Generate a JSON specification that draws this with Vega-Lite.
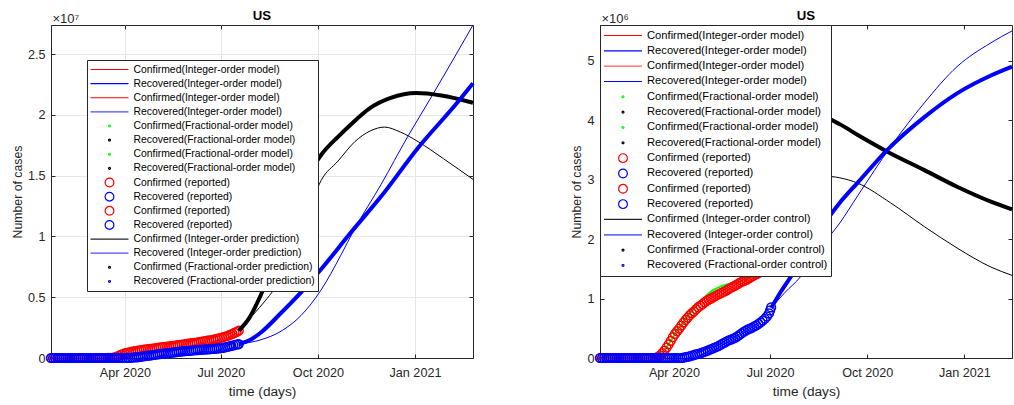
{
  "$schema": "https://vega.github.io/schema/vega-lite/v6.json",
  "background": "white",
  "padding": {"left": 10, "top": 8, "right": 0, "bottom": 0},
  "spacing": 88,
  "config": {
    "font": "Liberation Sans",
    "view": {"stroke": "#262626", "strokeWidth": 1},
    "axis": {"labelFont": "Liberation Sans", "titleFont": "Liberation Sans", "labelFontSize": 12.6, "labelColor": "#262626", "titleColor": "#262626", "titleFontWeight": "normal", "domainColor": "#262626", "tickColor": "#262626", "tickSize": -4, "gridColor": "#e6e6e6", "grid": true},
    "axisX": {"labelPadding": 12.5, "titlePadding": 5, "titleFontSize": 13.7},
    "axisY": {"labelPadding": 10, "titlePadding": 3, "titleFontSize": 12.3}
  },
  "datasets": {
    "L": [
      {"series":"09","date":"2020-01-22","cases":0},{"series":"09","date":"2020-01-24","cases":0},{"series":"09","date":"2020-01-26","cases":0},{"series":"09","date":"2020-01-28","cases":0},{"series":"09","date":"2020-01-30","cases":0},{"series":"09","date":"2020-02-01","cases":0},{"series":"09","date":"2020-02-03","cases":0},{"series":"09","date":"2020-02-05","cases":0},{"series":"09","date":"2020-02-07","cases":0},{"series":"09","date":"2020-02-09","cases":0},{"series":"09","date":"2020-02-11","cases":0},{"series":"09","date":"2020-02-13","cases":0},{"series":"09","date":"2020-02-15","cases":0},{"series":"09","date":"2020-02-17","cases":0},{"series":"09","date":"2020-02-19","cases":0},{"series":"09","date":"2020-02-21","cases":0},{"series":"09","date":"2020-02-23","cases":0},{"series":"09","date":"2020-02-25","cases":0},{"series":"09","date":"2020-02-27","cases":0},{"series":"09","date":"2020-02-29","cases":0},{"series":"09","date":"2020-03-02","cases":0},{"series":"09","date":"2020-03-04","cases":0},{"series":"09","date":"2020-03-06","cases":0},{"series":"09","date":"2020-03-08","cases":0},{"series":"09","date":"2020-03-10","cases":0},{"series":"09","date":"2020-03-12","cases":0},{"series":"09","date":"2020-03-14","cases":0},{"series":"09","date":"2020-03-16","cases":1000},
      {"series":"09","date":"2020-03-18","cases":5000},{"series":"09","date":"2020-03-20","cases":20000},{"series":"09","date":"2020-03-22","cases":50000},{"series":"09","date":"2020-03-24","cases":100000},{"series":"09","date":"2020-03-26","cases":170000},{"series":"09","date":"2020-03-28","cases":250000},{"series":"09","date":"2020-03-30","cases":320000},{"series":"09","date":"2020-04-01","cases":380000},{"series":"09","date":"2020-04-03","cases":430000},{"series":"09","date":"2020-04-05","cases":470000},{"series":"09","date":"2020-04-07","cases":510000},{"series":"09","date":"2020-04-09","cases":540000},{"series":"09","date":"2020-04-11","cases":570000},{"series":"09","date":"2020-04-13","cases":600000},{"series":"09","date":"2020-04-15","cases":630000},{"series":"09","date":"2020-04-17","cases":655000},{"series":"09","date":"2020-04-19","cases":680000},{"series":"09","date":"2020-04-21","cases":705000},{"series":"09","date":"2020-04-23","cases":730000},{"series":"09","date":"2020-04-25","cases":755000},{"series":"09","date":"2020-04-27","cases":780000},{"series":"09","date":"2020-04-29","cases":800000},{"series":"09","date":"2020-05-01","cases":820000},{"series":"09","date":"2020-05-03","cases":845000},{"series":"09","date":"2020-05-05","cases":870000},{"series":"09","date":"2020-05-07","cases":890000},{"series":"09","date":"2020-05-09","cases":910000},{"series":"09","date":"2020-05-11","cases":935000},{"series":"09","date":"2020-05-13","cases":960000},{"series":"09","date":"2020-05-15","cases":980000},{"series":"09","date":"2020-05-17","cases":1000000},{"series":"09","date":"2020-05-19","cases":1025000},{"series":"09","date":"2020-05-21","cases":1050000},{"series":"09","date":"2020-05-23","cases":1075000},{"series":"09","date":"2020-05-25","cases":1100000},{"series":"09","date":"2020-05-27","cases":1125000},{"series":"09","date":"2020-05-29","cases":1150000},{"series":"09","date":"2020-05-31","cases":1175000},{"series":"09","date":"2020-06-02","cases":1200000},{"series":"09","date":"2020-06-04","cases":1225000},{"series":"09","date":"2020-06-06","cases":1250000},{"series":"09","date":"2020-06-08","cases":1275000},{"series":"09","date":"2020-06-10","cases":1300000},{"series":"09","date":"2020-06-12","cases":1330000},{"series":"09","date":"2020-06-14","cases":1360000},{"series":"09","date":"2020-06-16","cases":1390000},{"series":"09","date":"2020-06-18","cases":1420000},{"series":"09","date":"2020-06-20","cases":1450000},{"series":"09","date":"2020-06-22","cases":1480000},{"series":"09","date":"2020-06-24","cases":1515000},{"series":"09","date":"2020-06-26","cases":1550000},{"series":"09","date":"2020-06-28","cases":1590000},{"series":"09","date":"2020-06-30","cases":1630000},{"series":"09","date":"2020-07-02","cases":1680000},{"series":"09","date":"2020-07-04","cases":1730000},{"series":"09","date":"2020-07-06","cases":1790000},{"series":"09","date":"2020-07-08","cases":1850000},{"series":"09","date":"2020-07-10","cases":1920000},{"series":"09","date":"2020-07-12","cases":1990000},{"series":"09","date":"2020-07-14","cases":2070000},{"series":"09","date":"2020-07-16","cases":2150000},{"series":"09","date":"2020-07-18","cases":2250000},
      {"series":"10","date":"2020-01-22","cases":0},{"series":"10","date":"2020-01-24","cases":0},{"series":"10","date":"2020-01-26","cases":0},{"series":"10","date":"2020-01-28","cases":0},{"series":"10","date":"2020-01-30","cases":0},{"series":"10","date":"2020-02-01","cases":0},{"series":"10","date":"2020-02-03","cases":0},{"series":"10","date":"2020-02-05","cases":0},{"series":"10","date":"2020-02-07","cases":0},{"series":"10","date":"2020-02-09","cases":0},{"series":"10","date":"2020-02-11","cases":0},{"series":"10","date":"2020-02-13","cases":0},{"series":"10","date":"2020-02-15","cases":0},{"series":"10","date":"2020-02-17","cases":0},{"series":"10","date":"2020-02-19","cases":0},{"series":"10","date":"2020-02-21","cases":0},{"series":"10","date":"2020-02-23","cases":0},{"series":"10","date":"2020-02-25","cases":0},{"series":"10","date":"2020-02-27","cases":0},{"series":"10","date":"2020-02-29","cases":0},{"series":"10","date":"2020-03-02","cases":0},{"series":"10","date":"2020-03-04","cases":0},{"series":"10","date":"2020-03-06","cases":0},{"series":"10","date":"2020-03-08","cases":0},{"series":"10","date":"2020-03-10","cases":0},{"series":"10","date":"2020-03-12","cases":0},{"series":"10","date":"2020-03-14","cases":0},{"series":"10","date":"2020-03-16","cases":0},{"series":"10","date":"2020-03-18","cases":0},{"series":"10","date":"2020-03-20","cases":0},{"series":"10","date":"2020-03-22","cases":0},{"series":"10","date":"2020-03-24","cases":0},{"series":"10","date":"2020-03-26","cases":0},{"series":"10","date":"2020-03-28","cases":0},{"series":"10","date":"2020-03-30","cases":0},
      {"series":"10","date":"2020-04-02","cases":5000},{"series":"10","date":"2020-04-04","cases":12000},{"series":"10","date":"2020-04-06","cases":20000},{"series":"10","date":"2020-04-08","cases":30000},{"series":"10","date":"2020-04-10","cases":43000},{"series":"10","date":"2020-04-12","cases":58000},{"series":"10","date":"2020-04-14","cases":78000},{"series":"10","date":"2020-04-16","cases":100000},{"series":"10","date":"2020-04-18","cases":125000},{"series":"10","date":"2020-04-20","cases":150000},{"series":"10","date":"2020-04-22","cases":175000},{"series":"10","date":"2020-04-24","cases":200000},{"series":"10","date":"2020-04-26","cases":225000},{"series":"10","date":"2020-04-28","cases":250000},{"series":"10","date":"2020-04-30","cases":275000},{"series":"10","date":"2020-05-02","cases":300000},{"series":"10","date":"2020-05-04","cases":325000},{"series":"10","date":"2020-05-06","cases":350000},{"series":"10","date":"2020-05-08","cases":370000},{"series":"10","date":"2020-05-10","cases":390000},{"series":"10","date":"2020-05-12","cases":410000},{"series":"10","date":"2020-05-14","cases":430000},{"series":"10","date":"2020-05-16","cases":450000},{"series":"10","date":"2020-05-18","cases":470000},{"series":"10","date":"2020-05-20","cases":490000},{"series":"10","date":"2020-05-22","cases":510000},{"series":"10","date":"2020-05-24","cases":530000},{"series":"10","date":"2020-05-26","cases":550000},{"series":"10","date":"2020-05-28","cases":565000},{"series":"10","date":"2020-05-30","cases":580000},{"series":"10","date":"2020-06-01","cases":595000},{"series":"10","date":"2020-06-03","cases":610000},{"series":"10","date":"2020-06-05","cases":625000},{"series":"10","date":"2020-06-07","cases":640000},{"series":"10","date":"2020-06-09","cases":655000},{"series":"10","date":"2020-06-11","cases":670000},{"series":"10","date":"2020-06-13","cases":685000},{"series":"10","date":"2020-06-15","cases":695000},{"series":"10","date":"2020-06-17","cases":705000},{"series":"10","date":"2020-06-19","cases":715000},{"series":"10","date":"2020-06-21","cases":730000},{"series":"10","date":"2020-06-23","cases":745000},{"series":"10","date":"2020-06-25","cases":760000},{"series":"10","date":"2020-06-27","cases":775000},{"series":"10","date":"2020-06-29","cases":790000},{"series":"10","date":"2020-07-01","cases":810000},{"series":"10","date":"2020-07-03","cases":840000},{"series":"10","date":"2020-07-05","cases":880000},{"series":"10","date":"2020-07-07","cases":920000},{"series":"10","date":"2020-07-09","cases":960000},{"series":"10","date":"2020-07-11","cases":1000000},{"series":"10","date":"2020-07-13","cases":1040000},{"series":"10","date":"2020-07-15","cases":1090000},{"series":"10","date":"2020-07-17","cases":1130000},{"series":"10","date":"2020-07-18","cases":1150000},
      {"series":"13","date":"2020-07-18","cases":2250000},{"series":"13","date":"2020-08-01","cases":3600000},{"series":"13","date":"2020-08-12","cases":4700000},{"series":"13","date":"2020-08-20","cases":5600000},{"series":"13","date":"2020-09-05","cases":8200000},{"series":"13","date":"2020-09-20","cases":11500000},{"series":"13","date":"2020-10-04","cases":14600000},{"series":"13","date":"2020-10-20","cases":16200000},{"series":"13","date":"2020-11-05","cases":17800000},{"series":"13","date":"2020-11-20","cases":18700000},{"series":"13","date":"2020-12-03","cases":19000000},{"series":"13","date":"2020-12-18","cases":18600000},{"series":"13","date":"2021-01-04","cases":17800000},{"series":"13","date":"2021-01-28","cases":16400000},{"series":"13","date":"2021-02-25","cases":14700000},
      {"series":"14","date":"2020-07-18","cases":1150000},{"series":"14","date":"2020-08-08","cases":1500000},{"series":"14","date":"2020-08-27","cases":2200000},{"series":"14","date":"2020-09-15","cases":3500000},{"series":"14","date":"2020-10-04","cases":5600000},{"series":"14","date":"2020-10-23","cases":8500000},{"series":"14","date":"2020-11-04","cases":10500000},{"series":"14","date":"2020-11-30","cases":14300000},{"series":"14","date":"2020-12-25","cases":18200000},{"series":"14","date":"2021-01-16","cases":21400000},{"series":"14","date":"2021-02-25","cases":27400000},
      {"series":"15","date":"2020-07-18","cases":2250000},{"series":"15","date":"2020-07-28","cases":3300000},{"series":"15","date":"2020-08-08","cases":5200000},{"series":"15","date":"2020-08-20","cases":7800000},{"series":"15","date":"2020-09-01","cases":10500000},{"series":"15","date":"2020-09-15","cases":13600000},{"series":"15","date":"2020-09-25","cases":15500000},{"series":"15","date":"2020-10-04","cases":16700000},{"series":"15","date":"2020-10-20","cases":18200000},{"series":"15","date":"2020-11-01","cases":19200000},{"series":"15","date":"2020-11-20","cases":20600000},{"series":"15","date":"2020-12-09","cases":21400000},{"series":"15","date":"2021-01-02","cases":21800000},{"series":"15","date":"2021-01-26","cases":21600000},{"series":"15","date":"2021-02-25","cases":21000000},
      {"series":"16","date":"2020-07-18","cases":1150000},{"series":"16","date":"2020-07-29","cases":1500000},{"series":"16","date":"2020-08-08","cases":2100000},{"series":"16","date":"2020-08-27","cases":3700000},{"series":"16","date":"2020-09-15","cases":5400000},{"series":"16","date":"2020-10-04","cases":7300000},{"series":"16","date":"2020-11-01","cases":10300000},{"series":"16","date":"2020-11-30","cases":13300000},{"series":"16","date":"2021-01-04","cases":17300000},{"series":"16","date":"2021-02-11","cases":21100000},{"series":"16","date":"2021-02-25","cases":22600000}
    ],
    "R": [
      {"series":"05","date":"2020-01-22","cases":0},{"series":"05","date":"2020-02-20","cases":0},{"series":"05","date":"2020-03-14","cases":0},{"series":"05","date":"2020-03-18","cases":30000},{"series":"05","date":"2020-03-26","cases":210000},{"series":"05","date":"2020-04-05","cases":490000},{"series":"05","date":"2020-04-15","cases":720000},{"series":"05","date":"2020-04-25","cases":930000},{"series":"05","date":"2020-05-01","cases":1040000},{"series":"05","date":"2020-05-08","cases":1140000},{"series":"05","date":"2020-05-15","cases":1200000},{"series":"05","date":"2020-05-22","cases":1240000},{"series":"05","date":"2020-06-01","cases":1280000},{"series":"05","date":"2020-06-13","cases":1370000},{"series":"05","date":"2020-06-25","cases":1480000},{"series":"05","date":"2020-07-02","cases":1580000},
      {"series":"09","date":"2020-01-22","cases":0},{"series":"09","date":"2020-01-24","cases":0},{"series":"09","date":"2020-01-26","cases":0},{"series":"09","date":"2020-01-28","cases":0},{"series":"09","date":"2020-01-30","cases":0},{"series":"09","date":"2020-02-01","cases":0},{"series":"09","date":"2020-02-03","cases":0},{"series":"09","date":"2020-02-05","cases":0},{"series":"09","date":"2020-02-07","cases":0},{"series":"09","date":"2020-02-09","cases":0},{"series":"09","date":"2020-02-11","cases":0},{"series":"09","date":"2020-02-13","cases":0},{"series":"09","date":"2020-02-15","cases":0},{"series":"09","date":"2020-02-17","cases":0},{"series":"09","date":"2020-02-19","cases":0},{"series":"09","date":"2020-02-21","cases":0},{"series":"09","date":"2020-02-23","cases":0},{"series":"09","date":"2020-02-25","cases":0},{"series":"09","date":"2020-02-27","cases":0},{"series":"09","date":"2020-02-29","cases":0},{"series":"09","date":"2020-03-02","cases":0},{"series":"09","date":"2020-03-04","cases":0},{"series":"09","date":"2020-03-06","cases":0},{"series":"09","date":"2020-03-08","cases":0},{"series":"09","date":"2020-03-10","cases":0},{"series":"09","date":"2020-03-12","cases":0},
      {"series":"09","date":"2020-03-15","cases":5000},{"series":"09","date":"2020-03-17","cases":20000},{"series":"09","date":"2020-03-19","cases":45000},{"series":"09","date":"2020-03-21","cases":80000},{"series":"09","date":"2020-03-23","cases":125000},{"series":"09","date":"2020-03-25","cases":175000},{"series":"09","date":"2020-03-27","cases":230000},{"series":"09","date":"2020-03-29","cases":290000},{"series":"09","date":"2020-03-31","cases":350000},{"series":"09","date":"2020-04-02","cases":405000},{"series":"09","date":"2020-04-04","cases":450000},{"series":"09","date":"2020-04-06","cases":495000},{"series":"09","date":"2020-04-08","cases":545000},{"series":"09","date":"2020-04-10","cases":595000},{"series":"09","date":"2020-04-12","cases":640000},{"series":"09","date":"2020-04-14","cases":680000},{"series":"09","date":"2020-04-16","cases":720000},{"series":"09","date":"2020-04-18","cases":755000},{"series":"09","date":"2020-04-20","cases":785000},{"series":"09","date":"2020-04-22","cases":820000},{"series":"09","date":"2020-04-24","cases":855000},{"series":"09","date":"2020-04-26","cases":880000},{"series":"09","date":"2020-04-28","cases":905000},{"series":"09","date":"2020-04-30","cases":935000},{"series":"09","date":"2020-05-02","cases":960000},{"series":"09","date":"2020-05-04","cases":980000},{"series":"09","date":"2020-05-06","cases":1000000},{"series":"09","date":"2020-05-08","cases":1020000},{"series":"09","date":"2020-05-10","cases":1040000},{"series":"09","date":"2020-05-12","cases":1060000},{"series":"09","date":"2020-05-14","cases":1080000},{"series":"09","date":"2020-05-16","cases":1095000},{"series":"09","date":"2020-05-18","cases":1110000},{"series":"09","date":"2020-05-20","cases":1130000},{"series":"09","date":"2020-05-22","cases":1150000},{"series":"09","date":"2020-05-24","cases":1170000},{"series":"09","date":"2020-05-26","cases":1190000},{"series":"09","date":"2020-05-28","cases":1210000},{"series":"09","date":"2020-05-30","cases":1230000},{"series":"09","date":"2020-06-01","cases":1250000},{"series":"09","date":"2020-06-03","cases":1270000},{"series":"09","date":"2020-06-05","cases":1290000},{"series":"09","date":"2020-06-07","cases":1300000},{"series":"09","date":"2020-06-09","cases":1320000},{"series":"09","date":"2020-06-11","cases":1340000},{"series":"09","date":"2020-06-13","cases":1360000},{"series":"09","date":"2020-06-15","cases":1380000},{"series":"09","date":"2020-06-17","cases":1400000},{"series":"09","date":"2020-06-19","cases":1420000},{"series":"09","date":"2020-06-21","cases":1440000},{"series":"09","date":"2020-06-23","cases":1460000},{"series":"09","date":"2020-06-25","cases":1480000},{"series":"09","date":"2020-06-27","cases":1505000},{"series":"09","date":"2020-06-29","cases":1530000},{"series":"09","date":"2020-07-01","cases":1560000},{"series":"09","date":"2020-07-02","cases":1580000},
      {"series":"10","date":"2020-01-22","cases":0},{"series":"10","date":"2020-01-24","cases":0},{"series":"10","date":"2020-01-26","cases":0},{"series":"10","date":"2020-01-28","cases":0},{"series":"10","date":"2020-01-30","cases":0},{"series":"10","date":"2020-02-01","cases":0},{"series":"10","date":"2020-02-03","cases":0},{"series":"10","date":"2020-02-05","cases":0},{"series":"10","date":"2020-02-07","cases":0},{"series":"10","date":"2020-02-09","cases":0},{"series":"10","date":"2020-02-11","cases":0},{"series":"10","date":"2020-02-13","cases":0},{"series":"10","date":"2020-02-15","cases":0},{"series":"10","date":"2020-02-17","cases":0},{"series":"10","date":"2020-02-19","cases":0},{"series":"10","date":"2020-02-21","cases":0},{"series":"10","date":"2020-02-23","cases":0},{"series":"10","date":"2020-02-25","cases":0},{"series":"10","date":"2020-02-27","cases":0},{"series":"10","date":"2020-02-29","cases":0},{"series":"10","date":"2020-03-02","cases":0},{"series":"10","date":"2020-03-04","cases":0},{"series":"10","date":"2020-03-06","cases":0},{"series":"10","date":"2020-03-08","cases":0},{"series":"10","date":"2020-03-10","cases":0},{"series":"10","date":"2020-03-12","cases":0},{"series":"10","date":"2020-03-14","cases":0},{"series":"10","date":"2020-03-16","cases":0},{"series":"10","date":"2020-03-18","cases":0},{"series":"10","date":"2020-03-20","cases":0},{"series":"10","date":"2020-03-22","cases":0},{"series":"10","date":"2020-03-24","cases":0},{"series":"10","date":"2020-03-26","cases":0},{"series":"10","date":"2020-03-28","cases":0},{"series":"10","date":"2020-03-30","cases":0},{"series":"10","date":"2020-04-01","cases":0},{"series":"10","date":"2020-04-03","cases":0},{"series":"10","date":"2020-04-05","cases":0},{"series":"10","date":"2020-04-07","cases":0},{"series":"10","date":"2020-04-09","cases":3000},
      {"series":"10","date":"2020-04-11","cases":10000},{"series":"10","date":"2020-04-13","cases":17000},{"series":"10","date":"2020-04-15","cases":25000},{"series":"10","date":"2020-04-17","cases":35000},{"series":"10","date":"2020-04-19","cases":45000},{"series":"10","date":"2020-04-21","cases":55000},{"series":"10","date":"2020-04-23","cases":65000},{"series":"10","date":"2020-04-25","cases":75000},{"series":"10","date":"2020-04-27","cases":85000},{"series":"10","date":"2020-04-29","cases":97000},{"series":"10","date":"2020-05-01","cases":110000},{"series":"10","date":"2020-05-03","cases":125000},{"series":"10","date":"2020-05-05","cases":140000},{"series":"10","date":"2020-05-07","cases":155000},{"series":"10","date":"2020-05-09","cases":170000},{"series":"10","date":"2020-05-11","cases":185000},{"series":"10","date":"2020-05-13","cases":200000},{"series":"10","date":"2020-05-15","cases":220000},{"series":"10","date":"2020-05-17","cases":240000},{"series":"10","date":"2020-05-19","cases":260000},{"series":"10","date":"2020-05-21","cases":280000},{"series":"10","date":"2020-05-23","cases":295000},{"series":"10","date":"2020-05-25","cases":310000},{"series":"10","date":"2020-05-27","cases":325000},{"series":"10","date":"2020-05-29","cases":340000},{"series":"10","date":"2020-05-31","cases":365000},{"series":"10","date":"2020-06-02","cases":390000},{"series":"10","date":"2020-06-04","cases":415000},{"series":"10","date":"2020-06-06","cases":440000},{"series":"10","date":"2020-06-08","cases":460000},{"series":"10","date":"2020-06-10","cases":480000},{"series":"10","date":"2020-06-12","cases":495000},{"series":"10","date":"2020-06-14","cases":510000},{"series":"10","date":"2020-06-16","cases":530000},{"series":"10","date":"2020-06-18","cases":550000},{"series":"10","date":"2020-06-20","cases":575000},{"series":"10","date":"2020-06-22","cases":600000},{"series":"10","date":"2020-06-24","cases":630000},{"series":"10","date":"2020-06-26","cases":660000},{"series":"10","date":"2020-06-28","cases":700000},{"series":"10","date":"2020-06-30","cases":750000},{"series":"10","date":"2020-07-01","cases":800000},{"series":"10","date":"2020-07-02","cases":850000},
      {"series":"13","date":"2020-07-02","cases":1580000},{"series":"13","date":"2020-07-20","cases":2300000},{"series":"13","date":"2020-08-10","cases":2850000},{"series":"13","date":"2020-08-28","cases":3050000},{"series":"13","date":"2020-09-05","cases":3030000},{"series":"13","date":"2020-09-22","cases":2940000},{"series":"13","date":"2020-10-23","cases":2610000},{"series":"13","date":"2020-11-24","cases":2210000},{"series":"13","date":"2020-12-25","cases":1850000},{"series":"13","date":"2021-01-26","cases":1530000},{"series":"13","date":"2021-02-15","cases":1390000},
      {"series":"14","date":"2020-07-02","cases":840000},{"series":"14","date":"2020-07-15","cases":1100000},{"series":"14","date":"2020-07-30","cases":1370000},{"series":"14","date":"2020-08-15","cases":1800000},{"series":"14","date":"2020-09-05","cases":2270000},{"series":"14","date":"2020-09-22","cases":2730000},{"series":"14","date":"2020-10-23","cases":3550000},{"series":"14","date":"2020-11-24","cases":4290000},{"series":"14","date":"2020-12-25","cases":4900000},{"series":"14","date":"2021-01-26","cases":5300000},{"series":"14","date":"2021-02-15","cases":5500000},
      {"series":"15","date":"2020-07-02","cases":1580000},{"series":"15","date":"2020-07-15","cases":2500000},{"series":"15","date":"2020-08-01","cases":3400000},{"series":"15","date":"2020-08-20","cases":4050000},{"series":"15","date":"2020-09-05","cases":3930000},{"series":"15","date":"2020-09-22","cases":3750000},{"series":"15","date":"2020-10-20","cases":3470000},{"series":"15","date":"2020-11-24","cases":3160000},{"series":"15","date":"2020-12-25","cases":2880000},{"series":"15","date":"2021-01-26","cases":2630000},{"series":"15","date":"2021-02-15","cases":2500000},
      {"series":"16","date":"2020-07-02","cases":840000},{"series":"16","date":"2020-07-11","cases":1110000},{"series":"16","date":"2020-07-20","cases":1350000},{"series":"16","date":"2020-08-05","cases":1800000},{"series":"16","date":"2020-08-20","cases":2220000},{"series":"16","date":"2020-09-05","cases":2610000},{"series":"16","date":"2020-09-22","cases":2950000},{"series":"16","date":"2020-10-20","cases":3500000},{"series":"16","date":"2020-11-24","cases":4050000},{"series":"16","date":"2020-12-25","cases":4450000},{"series":"16","date":"2021-01-26","cases":4750000},{"series":"16","date":"2021-02-15","cases":4900000}
    ]
  },
  "resolve": {"scale": {"x": "independent", "y": "independent", "color": "independent", "shape": "independent"}, "legend": {"color": "independent", "shape": "independent"}},
  "hconcat": [
    {
      "width": 422,
      "height": 333,
      "title": {"text": "US", "fontSize": 13.2, "fontWeight": "bold", "font": "Liberation Sans", "color": "#000000", "frame": "group", "anchor": "middle", "offset": -11},
      "data": {"name": "L"},
      "resolve": {"axis": {"x": "independent", "y": "independent"}},
      "encoding": {
        "x": {"field": "date", "type": "temporal", "scale": {"type": "utc", "domain": [{"year": 2020, "month": 1, "date": 22, "utc": true}, {"year": 2021, "month": 2, "date": 25, "utc": true}]}, "axis": {"title": "time (days)", "format": "%b %Y", "values": [{"year": 2020, "month": 4, "date": 1, "utc": true}, {"year": 2020, "month": 7, "date": 1, "utc": true}, {"year": 2020, "month": 10, "date": 1, "utc": true}, {"year": 2021, "month": 1, "date": 1, "utc": true}]}},
        "y": {"field": "cases", "type": "quantitative", "scale": {"domain": [0, 27400000], "nice": false}, "axis": {"title": "Number of cases", "values": [0, 5000000, 10000000, 15000000, 20000000, 25000000], "labelExpr": "datum.value / 10000000"}}
      },
      "layer": [
        {
          "transform": [{"filter": {"field": "series", "oneOf": ["09", "10"]}}],
          "mark": {"type": "point", "filled": false, "size": 1444, "strokeWidth": 1.5, "opacity": 1},
          "encoding": {
            "color": {"field": "series", "type": "nominal",
              "scale": {"domain": ["01","02","03","04","05","06","07","08","09","10","11","12","13","14","15","16"], "range": ["#ff0000","#0000ff","#ff0000","#4d4dff","#00ff00","#000000","#00ff00","#000000","#ff0000","#0000ff","#ff0000","#0000ff","#262626","#4d4dff","#000000","#0000ff"]},
              "legend": {"orient": "none", "legendX": 36, "legendY": 35, "title": null, "labelExpr": "['Confirmed(Integer-order model)','Recovered(Integer-order model)','Confirmed(Integer-order model)','Recovered(Integer-order model)','Confirmed(Fractional-order model)','Recovered(Fractional-order model)','Confirmed(Fractional-order model)','Recovered(Fractional-order model)','Confirmed (reported)','Recovered (reported)','Confirmed (reported)','Recovered (reported)','Confirmed (Integer-order prediction)','Recovered (Integer-order prediction)','Confirmed (Fractional-order prediction)','Recovered (Fractional-order prediction)'][toNumber(datum.label) - 1]", "labelFont": "Liberation Sans", "labelFontSize": 10.4, "labelColor": "#000000", "labelLimit": 400, "symbolSize": 1444, "symbolStrokeWidth": 1.2, "clipHeight": 14, "rowPadding": 0.13, "padding": 2.5, "fillColor": "#ffffff", "strokeColor": "#262626", "labelOffset": 4, "symbolOffset": 0, "direction": "vertical"}},
            "shape": {"field": "series", "type": "nominal",
              "scale": {"domain": ["01","02","03","04","05","06","07","08","09","10","11","12","13","14","15","16"], "range": ["stroke","stroke","stroke","stroke","M-0.05,0A0.05,0.05 0 1,1 0.05,0A0.05,0.05 0 1,1 -0.05,0Z","M-0.05,0A0.05,0.05 0 1,1 0.05,0A0.05,0.05 0 1,1 -0.05,0Z","M-0.05,0A0.05,0.05 0 1,1 0.05,0A0.05,0.05 0 1,1 -0.05,0Z","M-0.05,0A0.05,0.05 0 1,1 0.05,0A0.05,0.05 0 1,1 -0.05,0Z","M-0.23,0A0.23,0.23 0 1,1 0.23,0A0.23,0.23 0 1,1 -0.23,0Z","M-0.23,0A0.23,0.23 0 1,1 0.23,0A0.23,0.23 0 1,1 -0.23,0Z","M-0.23,0A0.23,0.23 0 1,1 0.23,0A0.23,0.23 0 1,1 -0.23,0Z","M-0.23,0A0.23,0.23 0 1,1 0.23,0A0.23,0.23 0 1,1 -0.23,0Z","stroke","stroke","M-0.05,0A0.05,0.05 0 1,1 0.05,0A0.05,0.05 0 1,1 -0.05,0Z","M-0.05,0A0.05,0.05 0 1,1 0.05,0A0.05,0.05 0 1,1 -0.05,0Z"]},
              "legend": {"orient": "none", "legendX": 36, "legendY": 35, "title": null, "labelExpr": "['Confirmed(Integer-order model)','Recovered(Integer-order model)','Confirmed(Integer-order model)','Recovered(Integer-order model)','Confirmed(Fractional-order model)','Recovered(Fractional-order model)','Confirmed(Fractional-order model)','Recovered(Fractional-order model)','Confirmed (reported)','Recovered (reported)','Confirmed (reported)','Recovered (reported)','Confirmed (Integer-order prediction)','Recovered (Integer-order prediction)','Confirmed (Fractional-order prediction)','Recovered (Fractional-order prediction)'][toNumber(datum.label) - 1]", "labelFont": "Liberation Sans", "labelFontSize": 10.4, "labelColor": "#000000", "labelLimit": 400, "symbolSize": 1444, "symbolStrokeWidth": 1.2, "clipHeight": 14, "rowPadding": 0.13, "padding": 2.5, "fillColor": "#ffffff", "strokeColor": "#262626", "labelOffset": 4, "symbolOffset": 0, "direction": "vertical"}}
          }
        },
        {"transform": [{"filter": {"field": "series", "equal": "13"}}], "mark": {"type": "line", "color": "#000000", "strokeWidth": 1, "interpolate": "monotone"},
          "encoding": {
            "x": {"field": "date", "type": "temporal", "axis": {"orient": "top", "labels": false, "domain": false, "grid": false, "ticks": true, "values": [{"year": 2020, "month": 4, "date": 1, "utc": true}, {"year": 2020, "month": 7, "date": 1, "utc": true}, {"year": 2020, "month": 10, "date": 1, "utc": true}, {"year": 2021, "month": 1, "date": 1, "utc": true}], "title": "×10⁷", "titleAngle": 0, "titleAnchor": "start", "titleAlign": "left", "titleBaseline": "alphabetic", "titleX": 1, "titleY": -2.5, "titleFontSize": 13, "titlePadding": 0}},
            "y": {"field": "cases", "type": "quantitative", "axis": {"orient": "right", "labels": false, "domain": false, "grid": false, "ticks": true, "title": null, "values": [0, 5000000, 10000000, 15000000, 20000000, 25000000]}}
          }},
        {"transform": [{"filter": {"field": "series", "equal": "14"}}], "mark": {"type": "line", "color": "#0000ff", "strokeWidth": 1, "interpolate": "monotone"}, "encoding": {"x": {"field": "date", "type": "temporal", "axis": null}, "y": {"field": "cases", "type": "quantitative", "axis": null}}},
        {"transform": [{"filter": {"field": "series", "equal": "15"}}], "mark": {"type": "line", "color": "#000000", "strokeWidth": 4, "interpolate": "monotone"}, "encoding": {"x": {"field": "date", "type": "temporal", "axis": null}, "y": {"field": "cases", "type": "quantitative", "axis": null}}},
        {"transform": [{"filter": {"field": "series", "equal": "16"}}], "mark": {"type": "line", "color": "#0000ff", "strokeWidth": 4, "interpolate": "monotone"}, "encoding": {"x": {"field": "date", "type": "temporal", "axis": null}, "y": {"field": "cases", "type": "quantitative", "axis": null}}}
      ]
    },
    {
      "width": 412,
      "height": 333,
      "title": {"text": "US", "fontSize": 13.2, "fontWeight": "bold", "font": "Liberation Sans", "color": "#000000", "frame": "group", "anchor": "middle", "offset": -11},
      "data": {"name": "R"},
      "resolve": {"axis": {"x": "independent", "y": "independent"}},
      "encoding": {
        "x": {"field": "date", "type": "temporal", "scale": {"type": "utc", "domain": [{"year": 2020, "month": 1, "date": 22, "utc": true}, {"year": 2021, "month": 2, "date": 15, "utc": true}]}, "axis": {"title": "time (days)", "format": "%b %Y", "values": [{"year": 2020, "month": 4, "date": 1, "utc": true}, {"year": 2020, "month": 7, "date": 1, "utc": true}, {"year": 2020, "month": 10, "date": 1, "utc": true}, {"year": 2021, "month": 1, "date": 1, "utc": true}]}},
        "y": {"field": "cases", "type": "quantitative", "scale": {"domain": [0, 5600000], "nice": false}, "axis": {"title": "Number of cases", "values": [0, 1000000, 2000000, 3000000, 4000000, 5000000], "labelExpr": "datum.value / 1000000"}}
      },
      "layer": [
        {"transform": [{"filter": {"field": "series", "equal": "05"}}], "mark": {"type": "line", "color": "#00ff00", "strokeWidth": 2, "interpolate": "monotone"}, "encoding": {"x": {"field": "date", "type": "temporal", "axis": null}, "y": {"field": "cases", "type": "quantitative", "axis": null}}},
        {
          "transform": [{"filter": {"field": "series", "oneOf": ["09", "10"]}}],
          "mark": {"type": "point", "filled": false, "size": 1444, "strokeWidth": 1.5, "opacity": 1},
          "encoding": {
            "color": {"field": "series", "type": "nominal",
              "scale": {"domain": ["01","02","03","04","05","06","07","08","09","10","11","12","13","14","15","16"], "range": ["#ff0000","#0000ff","#ff5c5c","#0000ff","#00ff00","#000000","#00ff00","#000000","#ff0000","#0000ff","#ff0000","#0000ff","#262626","#3333ff","#000000","#0000ff"]},
              "legend": {"orient": "none", "legendX": 0, "legendY": 0, "title": null, "labelExpr": "['Confirmed(Integer-order model)','Recovered(Integer-order model)','Confirmed(Integer-order model)','Recovered(Integer-order model)','Confirmed(Fractional-order model)','Recovered(Fractional-order model)','Confirmed(Fractional-order model)','Recovered(Fractional-order model)','Confirmed (reported)','Recovered (reported)','Confirmed (reported)','Recovered (reported)','Confirmed (Integer-order control)','Recovered (Integer-order control)','Confirmed (Fractional-order control)','Recovered (Fractional-order control)'][toNumber(datum.label) - 1]", "labelFont": "Liberation Sans", "labelFontSize": 11.2, "labelColor": "#000000", "labelLimit": 400, "symbolSize": 1444, "symbolStrokeWidth": 1.2, "clipHeight": 15, "rowPadding": 0.33, "padding": 3, "fillColor": "#ffffff", "strokeColor": "#262626", "labelOffset": 4, "symbolOffset": 0, "direction": "vertical"}},
            "shape": {"field": "series", "type": "nominal",
              "scale": {"domain": ["01","02","03","04","05","06","07","08","09","10","11","12","13","14","15","16"], "range": ["stroke","stroke","stroke","stroke","M-0.05,0A0.05,0.05 0 1,1 0.05,0A0.05,0.05 0 1,1 -0.05,0Z","M-0.05,0A0.05,0.05 0 1,1 0.05,0A0.05,0.05 0 1,1 -0.05,0Z","M-0.05,0A0.05,0.05 0 1,1 0.05,0A0.05,0.05 0 1,1 -0.05,0Z","M-0.05,0A0.05,0.05 0 1,1 0.05,0A0.05,0.05 0 1,1 -0.05,0Z","M-0.23,0A0.23,0.23 0 1,1 0.23,0A0.23,0.23 0 1,1 -0.23,0Z","M-0.23,0A0.23,0.23 0 1,1 0.23,0A0.23,0.23 0 1,1 -0.23,0Z","M-0.23,0A0.23,0.23 0 1,1 0.23,0A0.23,0.23 0 1,1 -0.23,0Z","M-0.23,0A0.23,0.23 0 1,1 0.23,0A0.23,0.23 0 1,1 -0.23,0Z","stroke","stroke","M-0.05,0A0.05,0.05 0 1,1 0.05,0A0.05,0.05 0 1,1 -0.05,0Z","M-0.05,0A0.05,0.05 0 1,1 0.05,0A0.05,0.05 0 1,1 -0.05,0Z"]},
              "legend": {"orient": "none", "legendX": 0, "legendY": 0, "title": null, "labelExpr": "['Confirmed(Integer-order model)','Recovered(Integer-order model)','Confirmed(Integer-order model)','Recovered(Integer-order model)','Confirmed(Fractional-order model)','Recovered(Fractional-order model)','Confirmed(Fractional-order model)','Recovered(Fractional-order model)','Confirmed (reported)','Recovered (reported)','Confirmed (reported)','Recovered (reported)','Confirmed (Integer-order control)','Recovered (Integer-order control)','Confirmed (Fractional-order control)','Recovered (Fractional-order control)'][toNumber(datum.label) - 1]", "labelFont": "Liberation Sans", "labelFontSize": 11.2, "labelColor": "#000000", "labelLimit": 400, "symbolSize": 1444, "symbolStrokeWidth": 1.2, "clipHeight": 15, "rowPadding": 0.33, "padding": 3, "fillColor": "#ffffff", "strokeColor": "#262626", "labelOffset": 4, "symbolOffset": 0, "direction": "vertical"}}
          }
        },
        {"transform": [{"filter": {"field": "series", "equal": "13"}}], "mark": {"type": "line", "color": "#000000", "strokeWidth": 1, "interpolate": "monotone"},
          "encoding": {
            "x": {"field": "date", "type": "temporal", "axis": {"orient": "top", "labels": false, "domain": false, "grid": false, "ticks": true, "values": [{"year": 2020, "month": 4, "date": 1, "utc": true}, {"year": 2020, "month": 7, "date": 1, "utc": true}, {"year": 2020, "month": 10, "date": 1, "utc": true}, {"year": 2021, "month": 1, "date": 1, "utc": true}], "title": "×10⁶", "titleAngle": 0, "titleAnchor": "start", "titleAlign": "left", "titleBaseline": "alphabetic", "titleX": 1, "titleY": -2.5, "titleFontSize": 13, "titlePadding": 0}},
            "y": {"field": "cases", "type": "quantitative", "axis": {"orient": "right", "labels": false, "domain": false, "grid": false, "ticks": true, "title": null, "values": [0, 1000000, 2000000, 3000000, 4000000, 5000000]}}
          }},
        {"transform": [{"filter": {"field": "series", "equal": "14"}}], "mark": {"type": "line", "color": "#0000ff", "strokeWidth": 1, "interpolate": "monotone"}, "encoding": {"x": {"field": "date", "type": "temporal", "axis": null}, "y": {"field": "cases", "type": "quantitative", "axis": null}}},
        {"transform": [{"filter": {"field": "series", "equal": "15"}}], "mark": {"type": "line", "color": "#000000", "strokeWidth": 4, "interpolate": "monotone"}, "encoding": {"x": {"field": "date", "type": "temporal", "axis": null}, "y": {"field": "cases", "type": "quantitative", "axis": null}}},
        {"transform": [{"filter": {"field": "series", "equal": "16"}}], "mark": {"type": "line", "color": "#0000ff", "strokeWidth": 4, "interpolate": "monotone"}, "encoding": {"x": {"field": "date", "type": "temporal", "axis": null}, "y": {"field": "cases", "type": "quantitative", "axis": null}}}
      ]
    }
  ]
}
